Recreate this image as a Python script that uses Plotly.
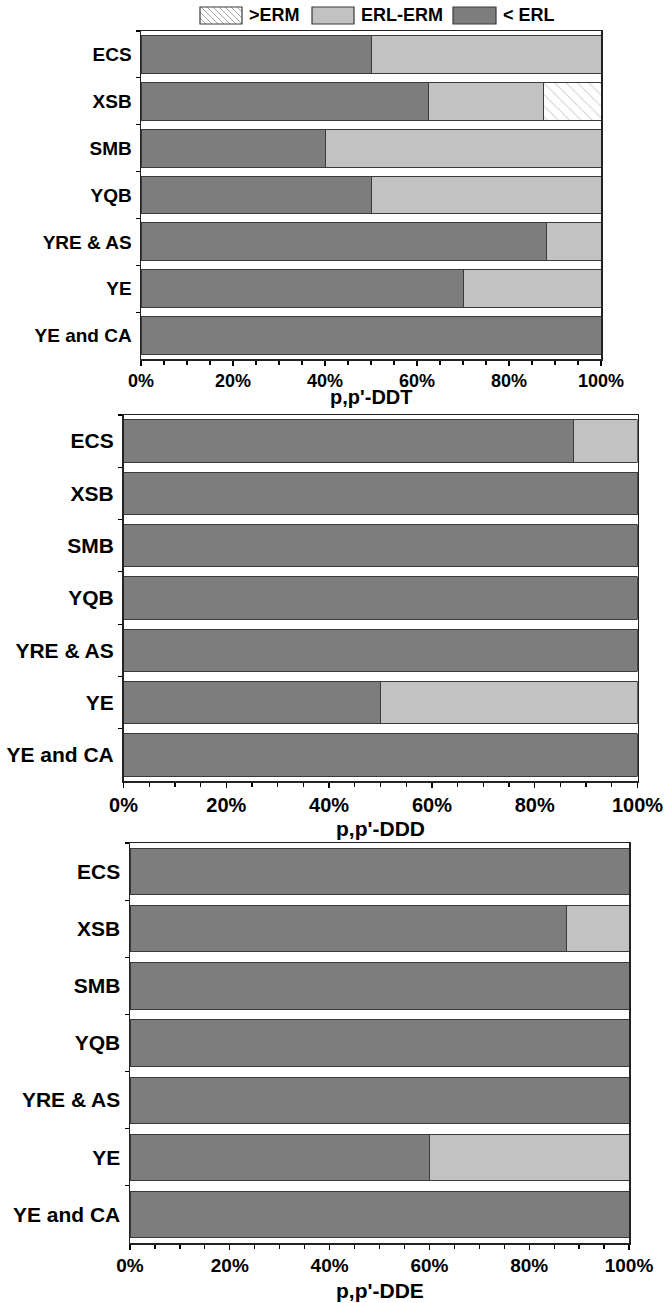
import plotly.graph_objects as go

# ---------------- data ----------------
categories = ["ECS", "XSB", "SMB", "YQB", "YRE & AS", "YE", "YE and CA"]
series_names = ["< ERL", "ERL-ERM", ">ERM"]

ddt_below_erl = [50, 62.5, 40, 50, 88.2, 70, 100]
ddt_erl_erm = [50, 25, 60, 50, 11.8, 30, 0]
ddt_above_erm = [0, 12.5, 0, 0, 0, 0, 0]

ddd_below_erl = [87.5, 100, 100, 100, 100, 50, 100]
ddd_erl_erm = [12.5, 0, 0, 0, 0, 50, 0]
ddd_above_erm = [0, 0, 0, 0, 0, 0, 0]

dde_below_erl = [100, 87.5, 100, 100, 100, 60, 100]
dde_erl_erm = [0, 12.5, 0, 0, 0, 40, 0]
dde_above_erm = [0, 0, 0, 0, 0, 0, 0]

panel_titles = ["p,p'-DDT", "p,p'-DDD", "p,p'-DDE"]
x_tickvals = [0, 20, 40, 60, 80, 100]
x_ticktext = ["0%", "20%", "40%", "60%", "80%", "100%"]

# ---------------- layout constants ----------------
W, H = 665, 1303
FONT = "Liberation Sans, Arial, sans-serif"
DARK = "#7d7d7d"
LIGHT = "#c2c2c2"
EDGE = "#3a3a3a"

# pixel boxes: (left, right, top, bottom, xtick font, ytick font, title font, title centre y)
panels = [
    (141, 601, 31, 359, 18, 19, 20, 397),
    (123.5, 637.5, 415, 781, 20, 21, 21, 828),
    (130, 629, 843, 1243, 19, 21, 21, 1290),
]

def px_x(p):
    return p / W

def px_y(p):
    return 1 - p / H

panel_data = [
    (ddt_below_erl, ddt_erl_erm, ddt_above_erm),
    (ddd_below_erl, ddd_erl_erm, ddd_above_erm),
    (dde_below_erl, dde_erl_erm, dde_above_erm),
]

fig = go.Figure()
annotations = []

for i, (vals, box) in enumerate(zip(panel_data, panels)):
    sfx = "" if i == 0 else str(i + 1)
    xa, ya = "x" + sfx, "y" + sfx
    below, mid, above = vals
    fig.add_trace(go.Bar(
        y=categories, x=below, orientation="h", name=series_names[0],
        xaxis=xa, yaxis=ya, showlegend=False,
        marker=dict(color=DARK, line=dict(color=EDGE, width=1)),
    ))
    fig.add_trace(go.Bar(
        y=categories, x=mid, orientation="h", name=series_names[1],
        xaxis=xa, yaxis=ya, showlegend=False,
        marker=dict(color=LIGHT, line=dict(color=EDGE, width=1)),
    ))
    fig.add_trace(go.Bar(
        y=categories, x=above, orientation="h", name=series_names[2],
        xaxis=xa, yaxis=ya, showlegend=False,
        marker=dict(color="white", line=dict(color=EDGE, width=1),
                    pattern=dict(shape="\\", fgcolor="#a0a0a0", bgcolor="white",
                                 size=8, solidity=0.12)),
    ))

    left, right, top, bottom, xfs, yfs, tfs, ty = box
    xkey = "xaxis" + sfx
    ykey = "yaxis" + sfx
    fig.update_layout(**{
        xkey: dict(
            domain=[px_x(left), px_x(right)], anchor=ya, range=[0, 100],
            automargin=False,
            tickvals=x_tickvals, ticktext=x_ticktext,
            ticks="outside", ticklen=5, tickwidth=1.3, tickcolor="black",
            minor=dict(dtick=5, ticks="outside", ticklen=4, tickwidth=1.2, tickcolor="black"),
            showline=True, linecolor="#222", linewidth=1.5, mirror=True,
            showgrid=False, zeroline=False,
            tickfont=dict(family=FONT, size=xfs, color="black", weight="bold"),
            fixedrange=True,
        ),
        ykey: dict(
            domain=[px_y(bottom), px_y(top)], anchor=xa,
            automargin=False,
            type="category", categoryorder="array", categoryarray=categories,
            autorange="reversed",
            ticks="outside", tickson="boundaries", ticklen=4, tickwidth=1.2, tickcolor="black",
            showline=True, linecolor="#222", linewidth=1.5, mirror=True,
            showgrid=False, zeroline=False,
            tickfont=dict(family=FONT, size=yfs, color="black", weight="bold"),
            ticklabelstandoff=4,
            fixedrange=True,
        ),
    })
    # axis title below each panel
    annotations.append(dict(xref="paper", yref="paper",
                            x=px_x((left + right) / 2), y=px_y(ty),
                            xanchor="center", yanchor="middle", showarrow=False,
                            text=panel_titles[i],
                            font=dict(family=FONT, size=tfs, color="black", weight="bold")))

# ---------------- manual legend (top) ----------------
shapes = []
leg_top, leg_bot = 7, 24
legend_items = [
    (200, 242, "hatch", series_names[2]),
    (312, 354, LIGHT, series_names[1]),
    (453, 496, DARK, series_names[0]),
]
for x0, x1, fill, label in legend_items:
    if fill == "hatch":
        shapes.append(dict(type="rect", xref="paper", yref="paper",
                           x0=px_x(x0), x1=px_x(x1), y0=px_y(leg_bot), y1=px_y(leg_top),
                           fillcolor="white", line=dict(width=0)))
        h = leg_bot - leg_top
        c = x0 - h
        while c < x1:
            sx, sy = c, leg_top
            ex, ey = c + h, leg_bot
            if sx < x0:
                sy = leg_top + (x0 - sx)
                sx = x0
            if ex > x1:
                ey = leg_bot - (ex - x1)
                ex = x1
            if ex > sx:
                shapes.append(dict(type="line", xref="paper", yref="paper",
                                   x0=px_x(sx), y0=px_y(sy), x1=px_x(ex), y1=px_y(ey),
                                   line=dict(color="#a8a8a8", width=1)))
            c += 6
        shapes.append(dict(type="rect", xref="paper", yref="paper",
                           x0=px_x(x0), x1=px_x(x1), y0=px_y(leg_bot), y1=px_y(leg_top),
                           line=dict(color=EDGE, width=1.2)))
    else:
        shapes.append(dict(type="rect", xref="paper", yref="paper",
                           x0=px_x(x0), x1=px_x(x1), y0=px_y(leg_bot), y1=px_y(leg_top),
                           fillcolor=fill, line=dict(color=EDGE, width=1.2)))
    annotations.append(dict(xref="paper", yref="paper", x=px_x(x1 + 5), y=px_y((leg_top + leg_bot) / 2),
                            xanchor="left", yanchor="middle", showarrow=False, text=label,
                            font=dict(family=FONT, size=18, color="black", weight="bold")))

fig.update_layout(
    width=W, height=H,
    margin=dict(l=0, r=0, t=0, b=0, pad=0),
    autosize=False,
    paper_bgcolor="white", plot_bgcolor="white",
    barmode="stack", bargap=0.19,
    showlegend=False,
    shapes=shapes, annotations=annotations,
    font=dict(family=FONT, color="black"),
)

fig.write_html("out.html",
               config={"displayModeBar": False, "staticPlot": True},
               post_script="document.body.style.margin='0';document.body.style.overflow='hidden';")
